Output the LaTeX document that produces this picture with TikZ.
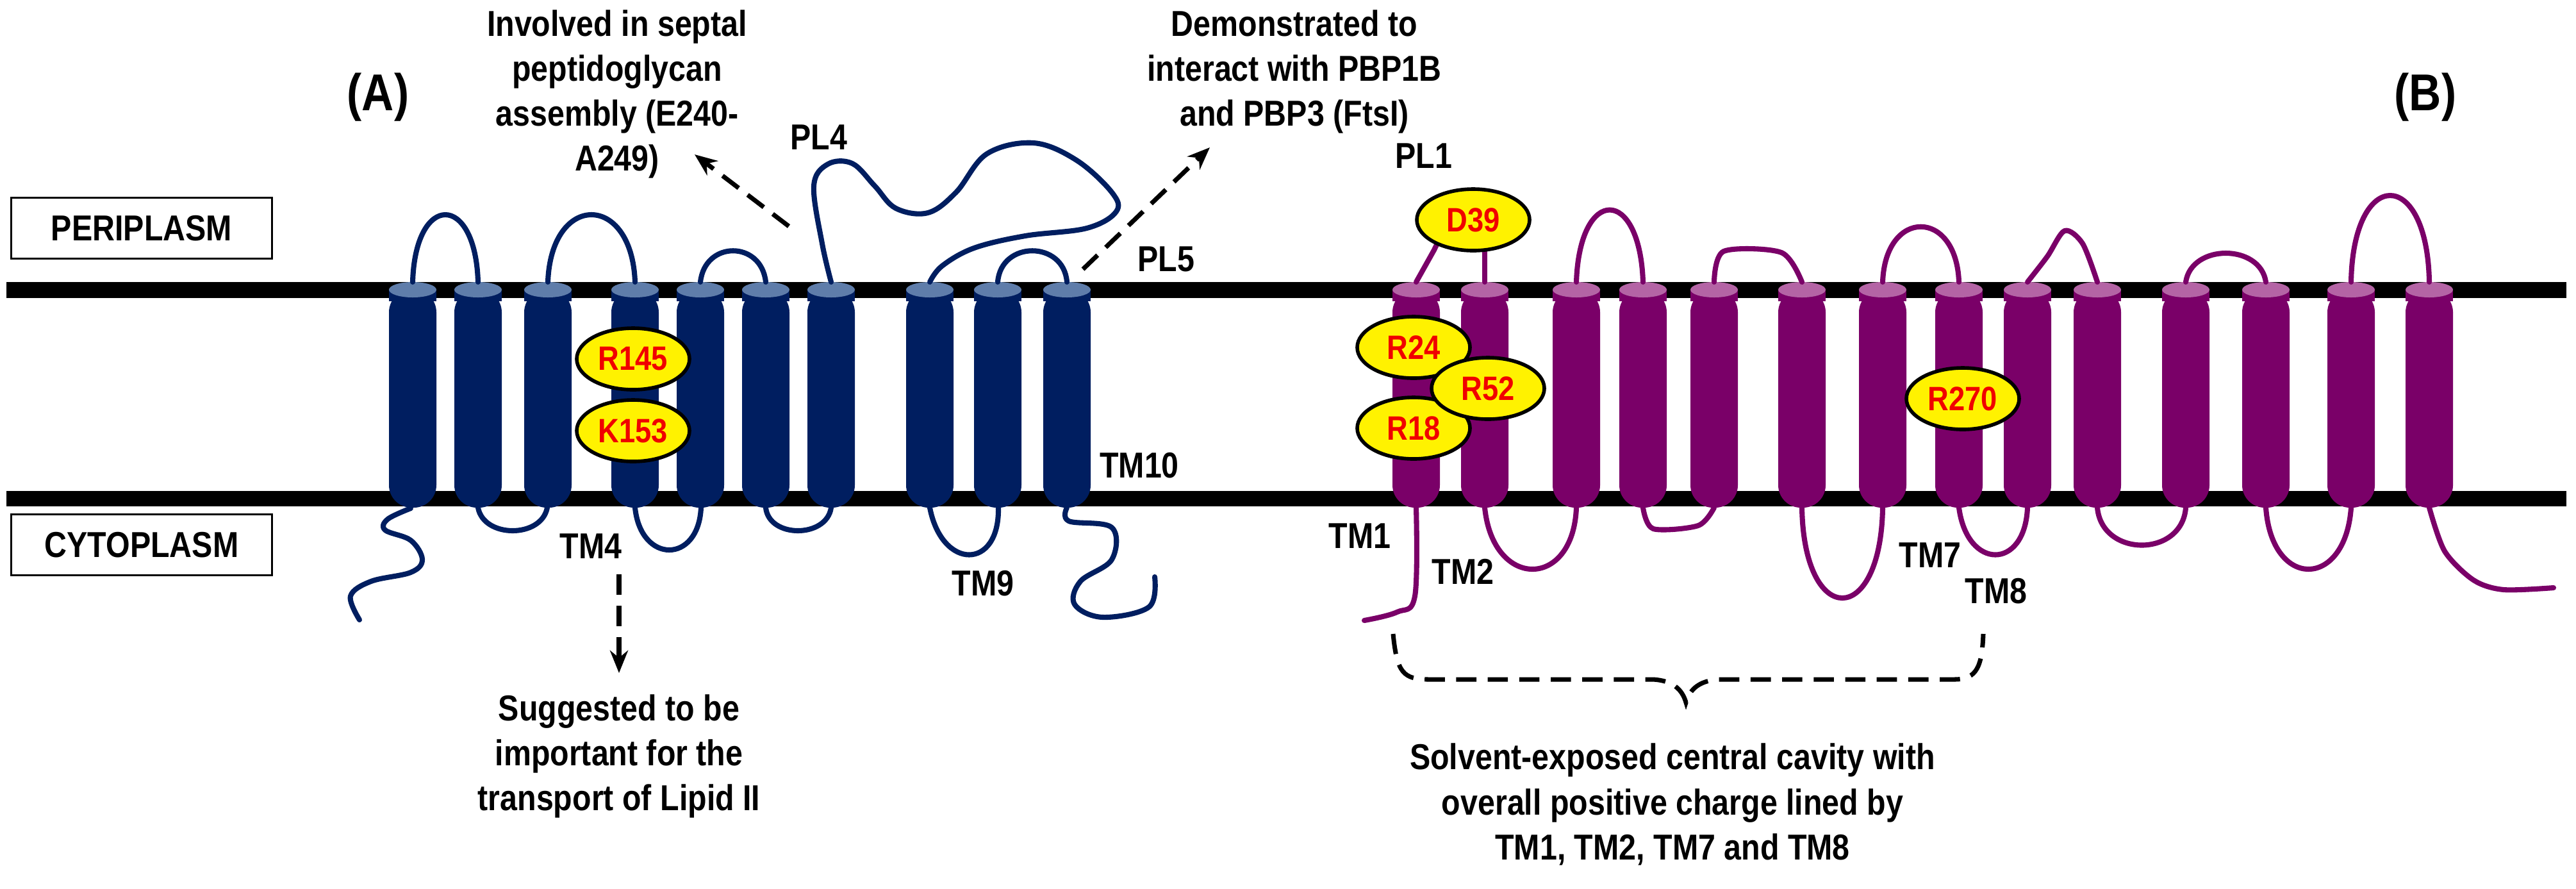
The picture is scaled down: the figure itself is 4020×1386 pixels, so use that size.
\documentclass[tikz,border=0pt]{standalone}
\usepackage{fontspec}
\setmainfont{Liberation Sans}[FakeStretch=0.86]
\usetikzlibrary{arrows.meta,shapes.geometric}
\definecolor{navy}{RGB}{0,30,96}
\definecolor{navycap}{RGB}{95,125,170}
\definecolor{purp}{RGB}{122,0,104}
\definecolor{purpcap}{RGB}{180,100,165}
\definecolor{resred}{RGB}{240,0,0}
\tikzset{
  lbl/.style={font=\fontsize{16}{20}\selectfont\bfseries, align=center, inner sep=0pt},
  big/.style={font=\fontsize{23}{26}\selectfont\bfseries, inner sep=0pt},
  res/.style={ellipse, draw=black, line width=1.6pt, fill=yellow, text=resred, inner sep=0pt,
     minimum width=17.6mm, minimum height=9.6mm, font=\fontsize{15}{17}\selectfont\bfseries},
  box/.style={draw=black, line width=1pt, fill=white, minimum width=40.7mm, minimum height=9.5mm, font=\fontsize{16}{20}\selectfont\bfseries},
  loopA/.style={draw=navy, line width=2.3pt, line cap=round, line join=round},
  loopB/.style={draw=purp, line width=2.3pt, line cap=round, line join=round},
  dasharr/.style={draw=black, line width=2pt, dash pattern=on 9pt off 5pt, -{Stealth[length=10pt,width=8pt]}},
}
\begin{document}
\begin{tikzpicture}[x=0.1mm,y=-0.1mm]
\useasboundingbox (0,0) rectangle (4020,1386);
% membrane lines
\fill[black] (10,440) rectangle (4005,465);
\fill[black] (10,766) rectangle (4005,790);
% helices
\foreach \x in {644,746,855,991,1093,1195,1297,1451,1557,1665}{
  \fill[navy,rounded corners=10] (\x-37,452) rectangle (\x+37,792);
  \fill[navy] (\x-37,452) rectangle (\x+37,470);
  \fill[navycap] (\x,452) ellipse [x radius=37, y radius=12];
}
\foreach \x in {2210,2317,2460,2564,2675,2812,2938,3057,3164,3273,3411,3536,3669,3791}{
  \fill[purp,rounded corners=10] (\x-37,452) rectangle (\x+37,792);
  \fill[purp] (\x-37,452) rectangle (\x+37,470);
  \fill[purpcap] (\x,452) ellipse [x radius=37, y radius=12];
}
% left top loops
\draw[loopA] (644,440) .. controls (648,300) and (742,300) .. (746,440);
\draw[loopA] (855,440) .. controls (860,300) and (986,300) .. (991,440);
\draw[loopA] (1093,440) .. controls (1100,375) and (1188,375) .. (1195,440);
\draw[loopA] (1557,440) .. controls (1562,375) and (1660,375) .. (1665,440);
\draw[loopA] plot[smooth, tension=0.6] coordinates {(1297,440) (1283,380) (1270,290) (1292,256) (1330,255) (1365,290) (1398,325) (1448,332) (1492,300) (1540,240) (1613,223) (1680,250) (1735,300) (1742,330) (1696,356) (1600,368) (1520,387) (1470,415) (1451,440)};
% left bottom loops
\draw[loopA] plot[smooth, tension=0.6] coordinates {(641,793) (605,810) (601,827) (641,843) (659,873) (641,893) (579,907) (547,930) (561,967)};
\draw[loopA] (746,792) .. controls (755,840) and (845,840) .. (854,792);
\draw[loopA] (991,792) .. controls (1000,880) and (1090,880) .. (1094,792);
\draw[loopA] (1195,792) .. controls (1200,840) and (1290,840) .. (1297,792);
\draw[loopA] (1451,792) .. controls (1470,890) and (1560,890) .. (1558,792);
\draw[loopA] plot[smooth, tension=0.6] coordinates {(1665,792) (1668,813) (1735,823) (1735,873) (1686,907) (1677,943) (1721,963) (1793,947) (1802,900)};
% right top loops
\draw[loopB] (2210,440) -- (2238,390) -- (2250,365);
\draw[loopB] (2317,440) -- (2317,385);
\draw[loopB] (2460,440) .. controls (2465,290) and (2559,290) .. (2564,440);
\draw[loopB] plot[smooth, tension=0.5] coordinates {(2675,440) (2690,392) (2780,394) (2812,440)};
\draw[loopB] (2938,440) .. controls (2942,325) and (3053,325) .. (3057,440);
\draw[loopB] plot[smooth, tension=0.5] coordinates {(3164,440) (3195,400) (3222,360) (3250,380) (3273,440)};
\draw[loopB] (3411,440) .. controls (3420,380) and (3527,380) .. (3536,440);
\draw[loopB] (3669,440) .. controls (3672,260) and (3788,260) .. (3791,440);
% right bottom loops
\draw[loopB] plot[smooth, tension=0.6] coordinates {(2210,792) (2208,930) (2180,955) (2129,968)};
\draw[loopB] (2317,792) .. controls (2330,920) and (2455,920) .. (2460,792);
\draw[loopB] plot[smooth, tension=0.5] coordinates {(2564,792) (2580,825) (2650,820) (2675,792)};
\draw[loopB] (2812,792) .. controls (2815,980) and (2935,980) .. (2938,792);
\draw[loopB] (3057,792) .. controls (3070,890) and (3160,890) .. (3164,792);
\draw[loopB] (3273,792) .. controls (3280,870) and (3405,870) .. (3411,792);
\draw[loopB] (3536,792) .. controls (3545,920) and (3660,920) .. (3669,792);
\draw[loopB] plot[smooth, tension=0.5] coordinates {(3791,792) (3815,860) (3860,905) (3907,920) (3985,917)};
% residues
\node[res] (r145) at (988,560) {R145};
\node[res] (k153) at (988,672) {K153};
\node[res] (d39) at (2299,343) {D39};
\node[res] (r24) at (2206,542) {R24};
\node[res] (r18) at (2206,668) {R18};
\node[res] (r52) at (2322,606) {R52};
\node[res] (r270) at (3063,622) {R270};
% boxes and labels
\node[box] (peri) at (221,356) {PERIPLASM};
\node[box] (cyto) at (221,850) {CYTOPLASM};
\node[big] (A) at (590,152) {(A)};
\node[big] (B) at (3785,152) {(B)};
\node[lbl] (pl4) at (1278,214) {PL4};
\node[lbl] (pl5) at (1820,404) {PL5};
\node[lbl] (pl1) at (2222,243) {PL1};
\node[lbl] (tm4) at (922,852) {TM4};
\node[lbl] (tm9) at (1534,910) {TM9};
\node[lbl] (tm10) at (1778,726) {TM10};
\node[lbl] (tm1) at (2122,836) {TM1};
\node[lbl] (tm2) at (2283,892) {TM2};
\node[lbl] (tm7) at (3012,866) {TM7};
\node[lbl] (tm8) at (3115,922) {TM8};
\node[lbl] (t1) at (963,147) {Involved in septal\\peptidoglycan\\assembly (E240-\\A249)};
\node[lbl] (t2) at (2020,112) {Demonstrated to\\interact with PBP1B\\and PBP3 (FtsI)};
\node[lbl] (t3) at (966,1180) {Suggested to be\\important for the\\transport of Lipid II};
\node[lbl] (t4) at (2610,1255) {Solvent-exposed central cavity with\\overall positive charge lined by\\TM1, TM2, TM7 and TM8};
% dashed arrows
\coordinate (a1s) at (1231,353); \coordinate (a1e) at (1084,241);
\coordinate (a2s) at (1690,420); \coordinate (a2e) at (1888,230);
\coordinate (a3s) at (966,896); \coordinate (a3e) at (966,1050);
\draw[dasharr] (a1s) -- (a1e);
\draw[dasharr] (a2s) -- (a2e);
\draw[dasharr] (a3s) -- (a3e);
% brace
\draw[black, line width=2pt, dash pattern=on 9pt off 5pt]
  (2174,989) .. controls (2180,1050) and (2190,1060) .. (2230,1060) -- (2580,1060)
  .. controls (2610,1062) and (2625,1075) .. (2631,1096)
  .. controls (2637,1075) and (2652,1062) .. (2682,1060) -- (3050,1060)
  .. controls (3085,1060) and (3093,1040) .. (3095,989);
\end{tikzpicture}
\end{document}
